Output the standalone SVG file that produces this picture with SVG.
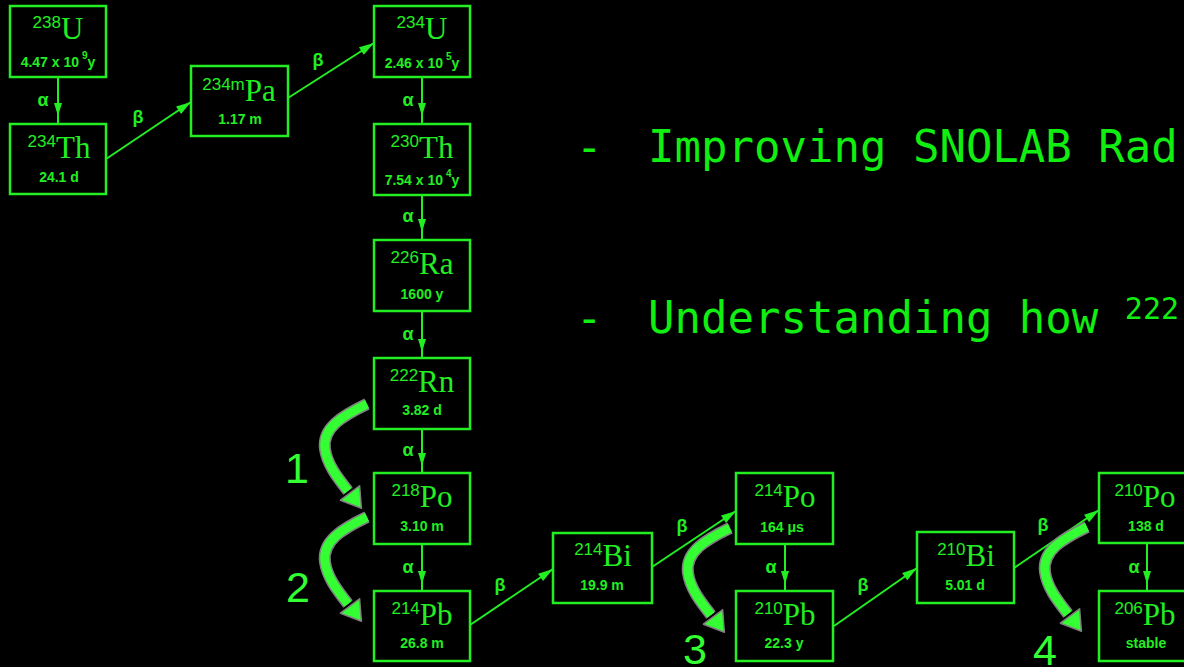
<svg xmlns="http://www.w3.org/2000/svg" xmlns:xlink="http://www.w3.org/1999/xlink" width="1184" height="667" viewBox="0 0 1184 667">
<style>
.bg{fill:#000}
.box{fill:none;stroke:#22ee22;stroke-width:2.5}
.m{font-family:"Liberation Sans",Arial,sans-serif;font-size:17px;fill:#22ee22}
.s{font-family:"Liberation Serif","Times New Roman",serif;font-size:31px;fill:#22ee22}
.hl{font-family:"Liberation Sans",Arial,sans-serif;font-size:14px;font-weight:bold;fill:#22ee22;text-anchor:middle}
.sup{font-size:10px}
.lbl{font-family:"Liberation Sans",Arial,sans-serif;font-size:18px;font-weight:bold;fill:#22ee22;text-anchor:middle}
.a{fill:none;stroke:#22ee22;stroke-width:2;marker-mid:url(#ah)}
.b{fill:none;stroke:#22ee22;stroke-width:2;marker-end:url(#bh)}
.txt{font-family:"DejaVu Sans Mono","Liberation Mono",monospace;font-size:44px;fill:#11ee11}
.num{font-family:"Liberation Sans",Arial,sans-serif;font-size:43px;fill:#33ff33;text-anchor:middle}
</style>
<defs>
<marker id="ah" markerUnits="userSpaceOnUse" markerWidth="16" markerHeight="10" viewBox="-14 -5 16 10" refX="0" refY="0" orient="auto">
<path d="M-13,-4 L0,0 L-13,4 z" fill="#22ee22"/>
</marker>
<marker id="bh" markerUnits="userSpaceOnUse" markerWidth="18" markerHeight="12" viewBox="-16 -6 18 12" refX="0" refY="0" orient="auto">
<path d="M-15,-4.5 L0,0 L-15,4.5 z" fill="#22ee22"/>
</marker>
<g id="bigArrow">
<path d="M0,0 C-25,12 -45,24 -42,45 C-40,60 -30,73 -19,87" fill="none" stroke="#808080" stroke-width="12"/>
<path d="M0,0 C-25,12 -45,24 -42,45 C-40,60 -30,73 -19,87" fill="none" stroke="#33ff33" stroke-width="9"/>
<polygon points="-7.4,81.8 -5.6,104.2 -26.6,96.2" fill="#33ff33" stroke="#808080" stroke-width="1.5" stroke-linejoin="round"/>
</g>
</defs>
<rect class="bg" x="0" y="0" width="1184" height="667"/>

<g id="text">
<text class="txt" x="576" y="162">-</text>
<text class="txt" x="648" y="162">Improving SNOLAB Rad</text>
<text class="txt" x="576" y="333">-</text>
<text class="txt" x="648" y="333">Understanding how <tspan font-size="30" dy="-14">222</tspan></text>
</g>

<g id="connectors">
<path class="a" d="M58,78 L58,116 L58,124"/>
<text class="lbl" x="43" y="106">α</text>
<path class="a" d="M422,77 L422,116 L422,124"/>
<text class="lbl" x="408" y="106">α</text>
<path class="a" d="M422,195 L422,232 L422,240"/>
<text class="lbl" x="408" y="222">α</text>
<path class="a" d="M422,311 L422,352 L422,358"/>
<text class="lbl" x="408" y="340">α</text>
<path class="a" d="M422,429 L422,466 L422,473"/>
<text class="lbl" x="408" y="456">α</text>
<path class="a" d="M422,544 L422,584 L422,591"/>
<text class="lbl" x="408" y="573">α</text>
<path class="a" d="M785,544 L785,584 L785,591"/>
<text class="lbl" x="771" y="573">α</text>
<path class="a" d="M1147,543 L1147,584 L1147,591"/>
<text class="lbl" x="1134" y="573">α</text>

<path class="b" d="M106,159 L191,102"/>
<text class="lbl" x="138" y="123">β</text>
<path class="b" d="M288,98 L374,43"/>
<text class="lbl" x="318" y="66">β</text>
<path class="b" d="M470,625 L553,569"/>
<text class="lbl" x="500" y="591">β</text>
<path class="b" d="M652,567 L736,511"/>
<text class="lbl" x="682" y="532">β</text>
<path class="b" d="M834,626 L917,568"/>
<text class="lbl" x="863" y="591">β</text>
<path class="b" d="M1014,568 L1099,510"/>
<text class="lbl" x="1043" y="531">β</text>
</g>

<g id="n-u238">
<rect class="box" x="10" y="6" width="96" height="71"/>
<text x="58" y="39" text-anchor="middle"><tspan class="m" dy="-11">238</tspan><tspan class="s" dy="11">U</tspan></text>
<text class="hl" x="58" y="67">4.47 x 10<tspan class="sup" dx="3" dy="-8">9</tspan><tspan dy="8">y</tspan></text>
</g>
<g id="n-th234">
<rect class="box" x="10" y="124" width="96" height="70"/>
<text x="59" y="158" text-anchor="middle"><tspan class="m" dy="-11">234</tspan><tspan class="s" dy="11">Th</tspan></text>
<text class="hl" x="59" y="182">24.1 d</text>
</g>
<g id="n-pa234m">
<rect class="box" x="191" y="66" width="97" height="70"/>
<text x="239" y="101" text-anchor="middle"><tspan class="m" dy="-11">234m</tspan><tspan class="s" dy="11">Pa</tspan></text>
<text class="hl" x="240" y="124">1.17 m</text>
</g>
<g id="n-u234">
<rect class="box" x="374" y="6" width="96" height="71"/>
<text x="422" y="39" text-anchor="middle"><tspan class="m" dy="-11">234</tspan><tspan class="s" dy="11">U</tspan></text>
<text class="hl" x="422" y="68">2.46 x 10<tspan class="sup" dx="3" dy="-8">5</tspan><tspan dy="8">y</tspan></text>
</g>
<g id="n-th230">
<rect class="box" x="374" y="124" width="96" height="71"/>
<text x="422" y="158" text-anchor="middle"><tspan class="m" dy="-11">230</tspan><tspan class="s" dy="11">Th</tspan></text>
<text class="hl" x="422" y="185">7.54 x 10<tspan class="sup" dx="3" dy="-8">4</tspan><tspan dy="8">y</tspan></text>
</g>
<g id="n-ra226">
<rect class="box" x="374" y="240" width="96" height="71"/>
<text x="422" y="274" text-anchor="middle"><tspan class="m" dy="-11">226</tspan><tspan class="s" dy="11">Ra</tspan></text>
<text class="hl" x="422" y="299">1600 y</text>
</g>
<g id="n-rn222">
<rect class="box" x="374" y="358" width="96" height="71"/>
<text x="422" y="392" text-anchor="middle"><tspan class="m" dy="-11">222</tspan><tspan class="s" dy="11">Rn</tspan></text>
<text class="hl" x="422" y="415">3.82 d</text>
</g>
<g id="n-po218">
<rect class="box" x="374" y="473" width="96" height="71"/>
<text x="422" y="507" text-anchor="middle"><tspan class="m" dy="-11">218</tspan><tspan class="s" dy="11">Po</tspan></text>
<text class="hl" x="422" y="531">3.10 m</text>
</g>
<g id="n-pb214">
<rect class="box" x="374" y="591" width="96" height="70"/>
<text x="422" y="625" text-anchor="middle"><tspan class="m" dy="-11">214</tspan><tspan class="s" dy="11">Pb</tspan></text>
<text class="hl" x="422" y="648">26.8 m</text>
</g>
<g id="n-bi214">
<rect class="box" x="553" y="533" width="99" height="70"/>
<text x="603" y="566" text-anchor="middle"><tspan class="m" dy="-11">214</tspan><tspan class="s" dy="11">Bi</tspan></text>
<text class="hl" x="602" y="590">19.9 m</text>
</g>
<g id="n-po214">
<rect class="box" x="736" y="473" width="97" height="71"/>
<text x="785" y="507" text-anchor="middle"><tspan class="m" dy="-11">214</tspan><tspan class="s" dy="11">Po</tspan></text>
<text class="hl" x="782" y="532">164 μs</text>
</g>
<g id="n-pb210">
<rect class="box" x="736" y="591" width="97" height="70"/>
<text x="785" y="625" text-anchor="middle"><tspan class="m" dy="-11">210</tspan><tspan class="s" dy="11">Pb</tspan></text>
<text class="hl" x="784" y="648">22.3 y</text>
</g>
<g id="n-bi210">
<rect class="box" x="917" y="532" width="97" height="71"/>
<text x="966" y="566" text-anchor="middle"><tspan class="m" dy="-11">210</tspan><tspan class="s" dy="11">Bi</tspan></text>
<text class="hl" x="965" y="590">5.01 d</text>
</g>
<g id="n-po210">
<rect class="box" x="1099" y="473" width="97" height="70"/>
<text x="1145" y="507" text-anchor="middle"><tspan class="m" dy="-11">210</tspan><tspan class="s" dy="11">Po</tspan></text>
<text class="hl" x="1146" y="531">138 d</text>
</g>
<g id="n-pb206">
<rect class="box" x="1099" y="591" width="97" height="70"/>
<text x="1145" y="625" text-anchor="middle"><tspan class="m" dy="-11">206</tspan><tspan class="s" dy="11">Pb</tspan></text>
<text class="hl" x="1146" y="648">stable</text>
</g>

<g id="steps">
<use xlink:href="#bigArrow" x="367" y="404"/>
<use xlink:href="#bigArrow" x="367" y="517"/>
<use xlink:href="#bigArrow" x="730" y="528"/>
<use xlink:href="#bigArrow" x="1087" y="527"/>
<text class="num" x="297" y="483">1</text>
<text class="num" x="298" y="602">2</text>
<text class="num" x="695" y="664">3</text>
<text class="num" x="1045" y="665">4</text>
</g>
</svg>
